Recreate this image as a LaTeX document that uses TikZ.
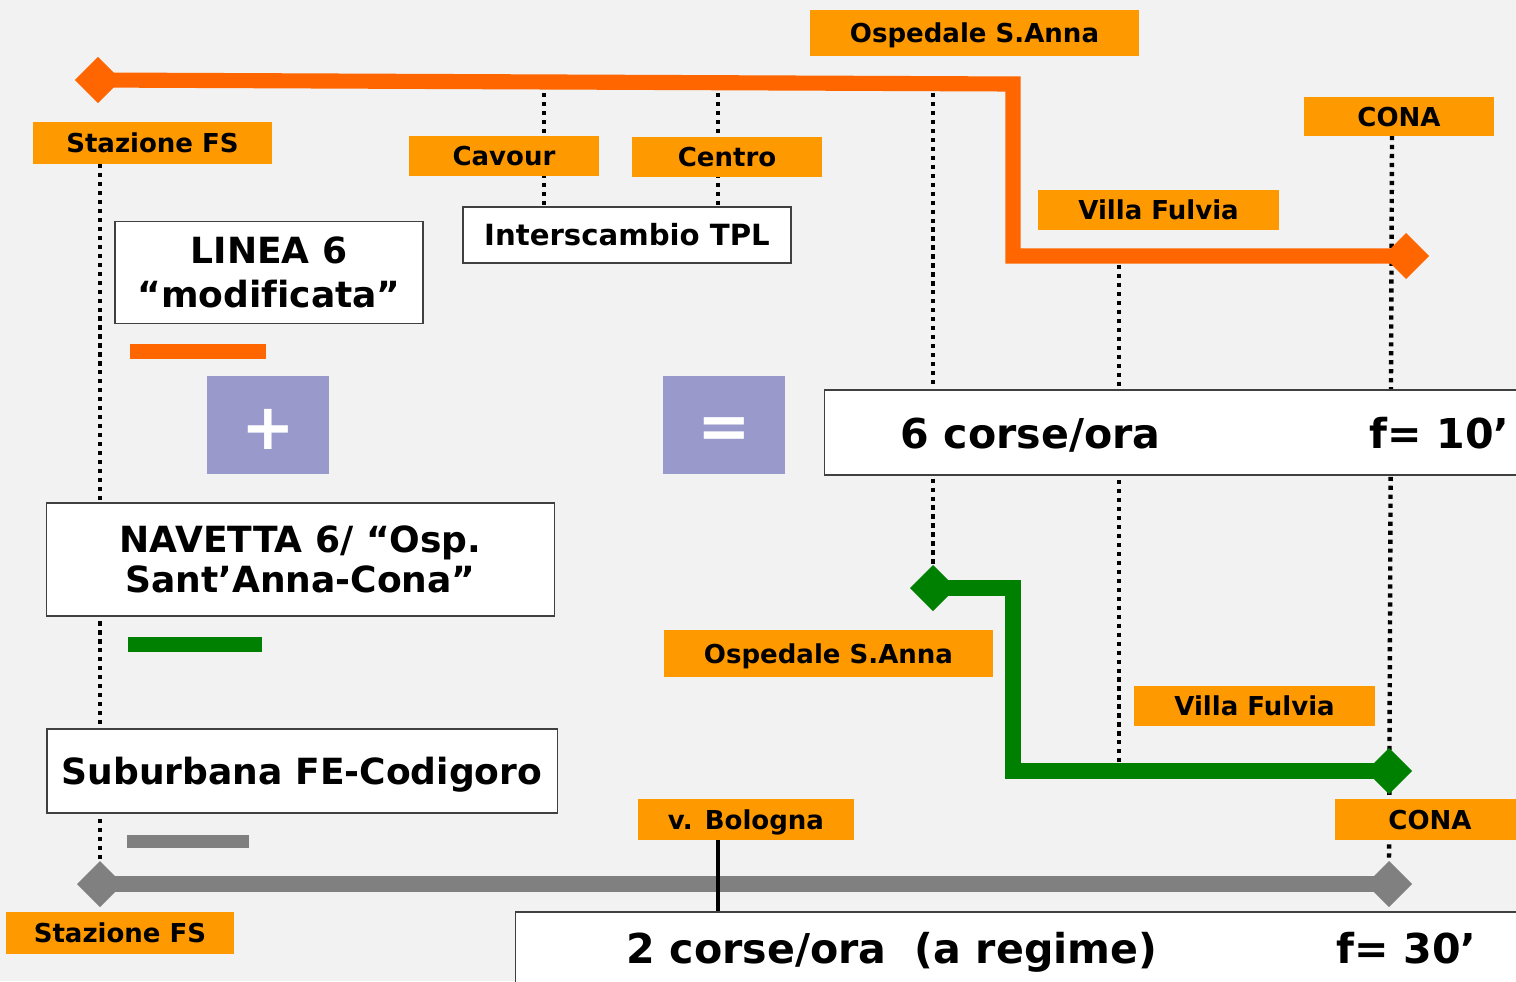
\documentclass[tikz,border=0pt]{standalone}
\usepackage{fontspec}
\setmainfont{DejaVu Sans}[Ligatures=NoCommon]
\usetikzlibrary{shapes.geometric}
\pgfdeclarelayer{back}
\pgfdeclarelayer{bg}
\pgfsetlayers{back,bg,main}
\definecolor{bgc}{HTML}{F2F2F2}
\definecolor{clbl}{HTML}{FF9900}
\definecolor{oroute}{HTML}{FF6600}
\definecolor{groute}{HTML}{008000}
\definecolor{sroute}{HTML}{808080}
\definecolor{purp}{HTML}{9999CC}
\definecolor{bord}{HTML}{404040}
\begin{document}
\begin{tikzpicture}[x=0.01cm,y=-0.01cm,
  lab/.style={fill=clbl, inner sep=0pt, outer sep=0pt, font=\fontsize{7.4}{9}\selectfont\bfseries, text height=5.4pt, text depth=0pt},
  wbox/.style={fill=white, draw=bord, line width=0.37pt, inner sep=0pt, outer sep=0pt},
  bigtxt/.style={font=\fontsize{10.25}{12.5}\selectfont\bfseries, text height=7.47pt, text depth=0pt},
  twoline/.style={font=\fontsize{10.25}{#1}\selectfont\bfseries, align=center},
  hugetxt/.style={font=\fontsize{11.7}{14}\selectfont\bfseries, inner sep=0pt, anchor=base west},
  pbox/.style={fill=purp, text=white, inner sep=0pt, font=\fontsize{18.2}{20}\selectfont\bfseries, minimum width=1.21cm, minimum height=0.98cm},
  legbar/.style={inner sep=0pt, outer sep=0pt},
  diam/.style={diamond, inner sep=0pt, outer sep=0pt, minimum width=0.46cm, minimum height=0.46cm},
  route/.style={line width=4.3pt, line join=miter},
  dotl/.style={line width=1.25pt, dash pattern=on 1.2pt off 1.35pt},
  solidl/.style={line width=1.15pt}
]
\useasboundingbox (0,0) rectangle (1516,981);
\begin{pgfonlayer}{back}
  \fill[bgc] (0,0) rectangle (1516,981);
\end{pgfonlayer}

% orange labels
\node[lab, minimum width=3.29cm, minimum height=0.46cm] (ospTop) at (974.5,33) {Ospedale S.Anna};
\node[lab, minimum width=2.39cm, minimum height=0.42cm] (stazTop) at (152.5,143) {Stazione FS};
\node[lab, minimum width=1.90cm, minimum height=0.40cm] (cavour) at (504,156) {Cavour};
\node[lab, minimum width=1.90cm, minimum height=0.40cm] (centro) at (727,157) {Centro};
\node[lab, minimum width=1.90cm, minimum height=0.39cm] (cona1) at (1399,116.5) {CONA};
\node[lab, minimum width=2.41cm, minimum height=0.40cm] (villa1) at (1158.5,210) {Villa Fulvia};
\node[lab, minimum width=3.29cm, minimum height=0.47cm] (osp2) at (828.5,653.5) {Ospedale S.Anna};
\node[lab, minimum width=2.41cm, minimum height=0.40cm] (villa2) at (1254.5,706) {Villa Fulvia};
\node[lab, minimum width=2.16cm, minimum height=0.41cm] (vbol) at (746,819.5) {v. Bologna};
\node[lab, minimum width=1.90cm, minimum height=0.41cm] (cona2) at (1430,819.5) {CONA};
\node[lab, minimum width=2.28cm, minimum height=0.42cm] (stazBot) at (120,933) {Stazione FS};

% white boxes
\node[wbox, font=\fontsize{8.3}{10}\selectfont\bfseries, text height=6.05pt, text depth=0pt, minimum width=3.28cm, minimum height=0.56cm] (tpl) at (627,235) {Interscambio TPL};
\node[wbox, twoline=12.5, minimum width=3.08cm, minimum height=1.02cm] (linea) at (269,272.5) {LINEA 6\\“modificata”};
\node[wbox, twoline=11.4, minimum width=5.08cm, minimum height=1.13cm] (navetta) at (300.5,559.5) {NAVETTA 6/ “Osp.\\Sant’Anna-Cona”};
\node[wbox, bigtxt, minimum width=5.10cm, minimum height=0.84cm] (suburb) at (302,771) {Suburbana FE-Codigoro};
\node[wbox, minimum width=7.05cm, minimum height=0.85cm] (corse6) at (1177.5,432.5) {};
\node[wbox, minimum width=10.14cm, minimum height=0.88cm] (corse2) at (1023,956) {};
\node[hugetxt] (t6) at (900,448) {6 corse/ora};
\node[hugetxt] (f10) at (1369,448) {f= 10’};
\node[hugetxt] (t2) at (626,963) {2 corse/ora~~(a regime)};
\node[hugetxt] (f30) at (1336,963) {f= 30’};

% purple operators
\node[pbox] (plus) at (268,425) {\raisebox{-6.85pt}[0pt][0pt]{+}};
\node[pbox] (equal) at (724,425) {\raisebox{-6.7pt}[0pt][0pt]{=}};

% legend bars
\node[legbar, fill=oroute, minimum width=1.36cm, minimum height=0.15cm] (barO) at (198,351.5) {};
\node[legbar, fill=groute, minimum width=1.34cm, minimum height=0.15cm] (barG) at (195,644.5) {};
\node[legbar, fill=sroute, minimum width=1.21cm, minimum height=0.13cm] (barS) at (188,841.5) {};

% terminal diamonds
\node[diam, fill=oroute] (dOL) at (98,80) {};
\node[diam, fill=oroute] (dOR) at (1406,256) {};
\node[diam, fill=groute] (dGL) at (933,588) {};
\node[diam, fill=groute] (dGR) at (1389,771) {};
\node[diam, fill=sroute] (dSL) at (100,884) {};
\node[diam, fill=sroute] (dSR) at (1389,884) {};

\coordinate (oBend) at (1013,84);
\coordinate (gBend) at (1013,588);
\coordinate (p544) at (544,84);
\coordinate (p718) at (718,84);
\coordinate (p933) at (933,84);
\coordinate (p1119) at (1119,256);
\coordinate (p1392) at (1392,136);

\begin{pgfonlayer}{bg}
  % dotted stop lines
  \draw[dotl] (dSL |- stazTop.south) -- (dSL.north);
  \draw[dotl] (p544) -- (p544 |- tpl.north);
  \draw[dotl] (p718) -- (p718 |- tpl.north);
  \draw[dotl] (p933) -- (dGL.north);
  \draw[dotl] (p1119) -- (p1119 |- dGR);
  \draw[dotl] (p1392) -- (dSR.north);
  % routes
  \draw[route, oroute] (dOL.center) -- (oBend) |- (dOR.center);
  \draw[route, groute] (dGL.center) -- (gBend) |- (dGR.center);
  \draw[route, sroute] (dSL.center) -- (dSR.center);
  % v. Bologna stop
  \draw[solidl] (vbol.south -| p718) -- (p718 |- corse2.north);
\end{pgfonlayer}
\end{tikzpicture}
\end{document}
